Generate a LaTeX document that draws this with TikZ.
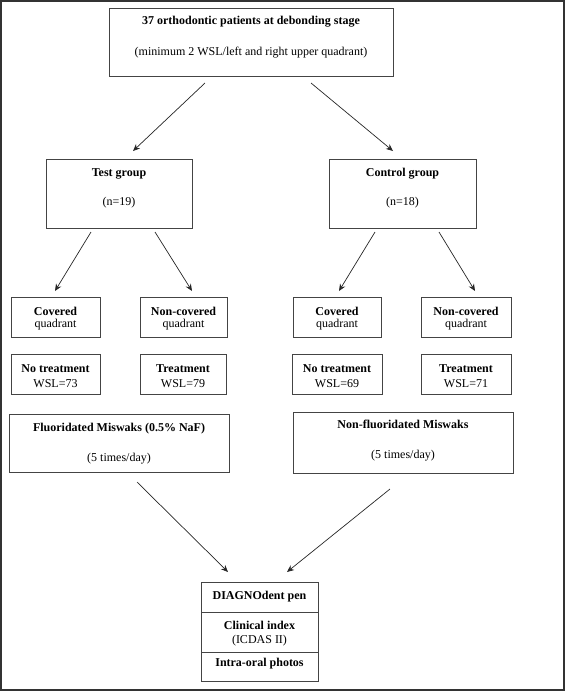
\documentclass[tikz,border=0pt]{standalone}
\usepackage{fontspec}
\setmainfont{Liberation Serif}
\usetikzlibrary{arrows.meta}
\definecolor{frame}{HTML}{333333}
\definecolor{boxline}{HTML}{444444}
\begin{document}
\begin{tikzpicture}[x=1pt,y=-1pt,
  box/.style={draw=boxline,line width=0.9pt},
  txt/.style={inner sep=0pt,anchor=base,font=\fontsize{12}{14}\selectfont},
  btxt/.style={txt,font=\fontsize{12}{14}\selectfont\bfseries},
  arr/.style={draw=black!85,line width=0.7pt,-{Stealth[length=7pt,width=6pt]}}]
\useasboundingbox (0,0) rectangle (565,691);
\draw[draw=frame,line width=2pt] (1,1) rectangle (564,690);
% top
\draw[box] (109,8) rectangle (393,76);
\node[btxt] (t1) at (251,24) {37 orthodontic patients at debonding stage};
\node[txt] (t2) at (251,55) {(minimum 2 WSL/left and right upper quadrant)};
\coordinate (a1s) at (205,83); \coordinate (a1e) at (133,151);
\coordinate (a2s) at (311,83); \coordinate (a2e) at (393,151);
\draw[arr] (a1s) -- (a1e);
\draw[arr] (a2s) -- (a2e);
% groups
\draw[box] (46,159) rectangle (192,228);
\node[btxt] (tg) at (119,176) {Test group};
\node[txt] (tgn) at (119,205) {(n=19)};
\draw[box] (329,159) rectangle (476,228);
\node[btxt] (cg) at (402.5,176) {Control group};
\node[txt] (cgn) at (402.5,205) {(n=18)};
\coordinate (b1s) at (91,232); \coordinate (b1e) at (55,291);
\coordinate (b2s) at (155,232); \coordinate (b2e) at (192,291);
\coordinate (b3s) at (375,232); \coordinate (b3e) at (339,291);
\coordinate (b4s) at (439,232); \coordinate (b4e) at (475,291);
\draw[arr] (b1s) -- (b1e);
\draw[arr] (b2s) -- (b2e);
\draw[arr] (b3s) -- (b3e);
\draw[arr] (b4s) -- (b4e);
% quadrants
\draw[box] (11,297) rectangle (100,337);
\node[btxt] (q1a) at (55.5,315) {Covered};
\node[txt] (q1b) at (55.5,327) {quadrant};
\draw[box] (140,297) rectangle (227,337);
\node[btxt] (q2a) at (183.5,315) {Non-covered};
\node[txt] (q2b) at (183.5,327) {quadrant};
\draw[box] (293,297) rectangle (381,337);
\node[btxt] (q3a) at (337,315) {Covered};
\node[txt] (q3b) at (337,327) {quadrant};
\draw[box] (421,297) rectangle (511,337);
\node[btxt] (q4a) at (466,315) {Non-covered};
\node[txt] (q4b) at (466,327) {quadrant};
% treatments
\draw[box] (11,354) rectangle (100,394);
\node[btxt] (r1a) at (55.5,372) {No treatment};
\node[txt] (r1b) at (55.5,387) {WSL=73};
\draw[box] (140,354) rectangle (226,394);
\node[btxt] (r2a) at (183,372) {Treatment};
\node[txt] (r2b) at (183,387) {WSL=79};
\draw[box] (292,354) rectangle (382,394);
\node[btxt] (r3a) at (337,372) {No treatment};
\node[txt] (r3b) at (337,387) {WSL=69};
\draw[box] (421,354) rectangle (511,394);
\node[btxt] (r4a) at (466,372) {Treatment};
\node[txt] (r4b) at (466,387) {WSL=71};
% miswaks
\draw[box] (9,414) rectangle (229,472);
\node[btxt] (m1a) at (119,431) {Fluoridated Miswaks (0.5\% NaF)};
\node[txt] (m1b) at (119,461) {(5 times/day)};
\draw[box] (293,412) rectangle (513,473);
\node[btxt] (m2a) at (403,428) {Non-fluoridated Miswaks};
\node[txt] (m2b) at (403,458) {(5 times/day)};
\coordinate (c1s) at (137,482); \coordinate (c1e) at (228,572);
\coordinate (c2s) at (390,489); \coordinate (c2e) at (287,572);
\draw[arr] (c1s) -- (c1e);
\draw[arr] (c2s) -- (c2e);
% bottom
\draw[box] (201,582) rectangle (318,681);
\draw[box] (201,612) -- (318,612);
\draw[box] (201,652) -- (318,652);
\node[btxt] (d1) at (259.5,599) {DIAGNOdent pen};
\node[btxt] (d2) at (259.5,629) {Clinical index};
\node[txt] (d3) at (259.5,643) {(ICDAS II)};
\node[btxt] (d4) at (259.5,666) {Intra-oral photos};
\end{tikzpicture}
\end{document}
